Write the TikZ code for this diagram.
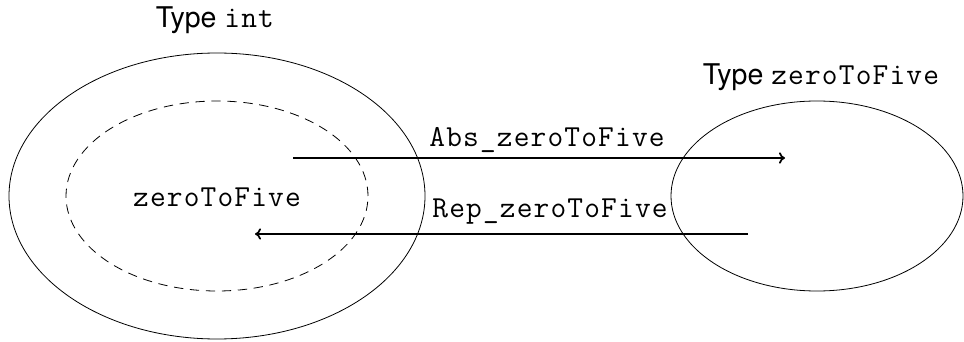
\documentclass[tikz,border=0pt]{standalone}
\usepackage{fontspec}
\setmainfont{TeX Gyre Heros}
\setmonofont{Latin Modern Mono}[Scale=1.07,LetterSpace=3.8]
\usetikzlibrary{shapes.geometric,arrows.meta}
\begin{document}
\begin{tikzpicture}[x=0.75pt,y=-0.75pt,
  set/.style={ellipse,draw,line width=0.6pt,inner sep=0pt},
  map/.style={line width=1.3pt,-{To[length=4.5pt,width=8.5pt]}},
  lbl/.style={font=\fontsize{21.4}{26}\selectfont,inner sep=0pt,anchor=base}]
\useasboundingbox (0,0) rectangle (964,342);
% the carrier type and its subset
\node[set,minimum width=312pt,minimum height=214.5pt] (int) at (217,196) {};
\node[set,dash pattern=on 7pt off 5pt,minimum width=226.5pt,minimum height=142.5pt] (sub) at (217,196) {};
% the new type
\node[set,minimum width=219pt,minimum height=142.5pt] (zt) at (817,196) {};
% names
\node[lbl] (subname) at (217,207) {\ttfamily zeroToFive};
\node[lbl] (intname) at (215.5,28) {Type \texttt{int}};
\node[lbl] (ztname) at (821.5,85) {Type \texttt{zeroToFive}};
% abstraction and representation maps
\coordinate (absFrom) at (293,158);
\coordinate (absTo) at (785,158);
\coordinate (repFrom) at (748,234);
\coordinate (repTo) at (255,234);
\draw[map] (absFrom) -- (absTo);
\draw[map] (repFrom) -- (repTo);
\node[lbl] (absname) at (547,147) {\ttfamily Abs\_zeroToFive};
\node[lbl] (repname) at (550,218) {\ttfamily Rep\_zeroToFive};
\end{tikzpicture}
\end{document}
